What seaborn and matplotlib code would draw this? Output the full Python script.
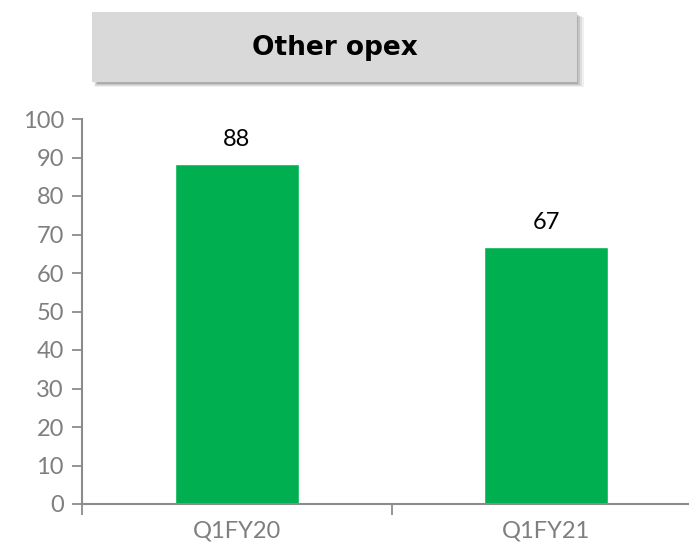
import matplotlib
matplotlib.use("Agg")
import matplotlib.pyplot as plt
import seaborn as sns
import pandas as pd
from matplotlib.patches import Rectangle

# data
quarters = ["Q1FY20", "Q1FY21"]
opex = [88.4, 66.8]
yticks = list(range(0, 101, 10))
title = "Other opex"

sns.set_style("white")
plt.rcParams["font.family"] = ["Lato", "DejaVu Sans"]

df = pd.DataFrame({"quarter": quarters, "opex": opex})

fig = plt.figure(figsize=(6.89, 5.5), dpi=100)
ax = fig.add_axes([82 / 689, 1 - 504 / 550, 619 / 689, 385 / 550])

sns.barplot(data=df, x="quarter", y="opex", color="#00B050", saturation=1,
            width=0.4, ax=ax)
ax.bar_label(ax.containers[0], fmt="%.0f", padding=10, fontsize=17,
             color="black")

grey = "#8c8c8c"
ax.set_ylim(0, 100)
ax.set_xlim(-0.5, 1.5)
ax.set_yticks(yticks)
ax.set_xticks([-0.5, 0.5, 1.5], minor=False)
ax.set_xticklabels([])
ax.set_xticks([0, 1], minor=True)
ax.set_xticklabels(quarters, minor=True)
ax.tick_params(axis="x", which="major", bottom=True, length=8, width=1.3,
               color=grey, direction="out")
ax.tick_params(axis="x", which="minor", bottom=False, length=0, pad=12,
               labelsize=17, labelcolor="#7f7f7f")
ax.tick_params(axis="y", left=True, length=7, width=1.3, color=grey,
               direction="out", labelsize=17, labelcolor="#7f7f7f", pad=6)
ax.set_xlabel("")
ax.set_ylabel("")
sns.despine(ax=ax)
for s in ["left", "bottom"]:
    ax.spines[s].set_color(grey)
    ax.spines[s].set_linewidth(1.5)

# title box with soft shadow
W, H = 689, 550
bx0, bx1, by0, by1 = 92, 577, 12, 82
for i, a in enumerate([0.06, 0.08, 0.10, 0.12]):
    off = 5 - i
    fig.patches.append(Rectangle(((bx0 + 2 + i) / W, 1 - (by1 + off) / H),
                                 (bx1 - bx0 + off - 2 * i) / W, (by1 - by0) / H,
                                 transform=fig.transFigure, color="black",
                                 alpha=a, lw=0, zorder=1))
fig.patches.append(Rectangle((bx0 / W, 1 - by1 / H), (bx1 - bx0) / W, (by1 - by0) / H,
                             transform=fig.transFigure, color="#d9d9d9", lw=0, zorder=2))
fig.text((bx0 + bx1) / 2 / W, 1 - 48 / H, title, ha="center", va="center",
         fontsize=19, fontweight="bold", color="black", zorder=3,
         family=["DejaVu Sans"])

fig.savefig("out.png", dpi=100)
